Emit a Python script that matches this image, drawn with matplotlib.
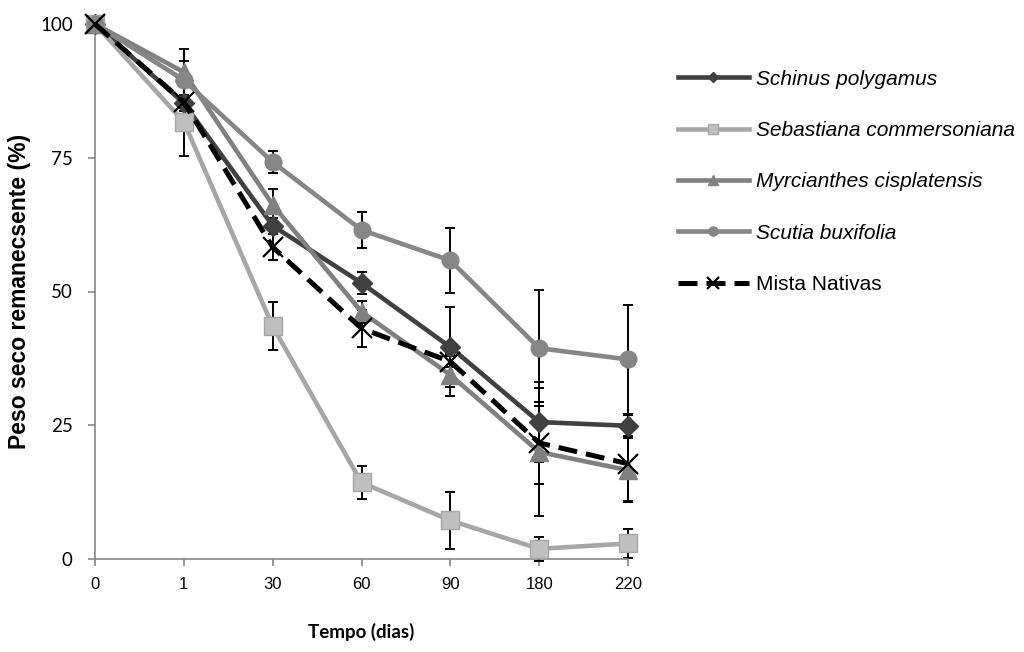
import matplotlib
matplotlib.use("Agg")
import matplotlib.pyplot as plt
import numpy as np

categories = ["0", "1", "30", "60", "90", "180", "220"]
schinus = [100, 85.2, 62.3, 51.6, 39.6, 25.6, 24.9]
schinus_err = [0, 1.5, 1.5, 2.0, 7.5, 7.5, 2.0]
sebastiana = [100, 81.7, 43.5, 14.3, 7.2, 1.9, 2.9]
sebastiana_err = [0, 1.0, 4.5, 3.0, 5.3, 2.2, 2.7]
myrcianthes = [100, 91.0, 66.2, 46.2, 34.4, 20.0, 16.6]
myrcianthes_err = [0, 2.0, 3.0, 2.0, 4.0, 12.0, 6.0]
scutia = [100, 89.5, 74.2, 61.5, 55.8, 39.4, 37.3]
scutia_err = [0, 1.0, 2.0, 3.3, 6.0, 10.8, 10.2]
mista = [100, 85.4, 58.3, 43.1, 36.9, 21.7, 17.8]
mista_err = [0, 10.0, 2.5, 3.5, 1.0, 7.7, 7.0]

fig = plt.figure(figsize=(10.24, 6.52), dpi=100)
ax = fig.add_axes([95/1024, 1-559/652, (628-95)/1024, (559-24)/652])

x = np.arange(len(categories))
series = [
    (schinus, schinus_err, "Schinus polygamus", "#404040", "#404040", "D", 10),
    (sebastiana, sebastiana_err, "Sebastiana commersoniana", "#A6A6A6", "#BFBFBF", "s", 13),
    (myrcianthes, myrcianthes_err, "Myrcianthes cisplatensis", "#808080", "#808080", "^", 12.5),
    (scutia, scutia_err, "Scutia buxifolia", "#868686", "#868686", "o", 12),
]
handles = []
for vals, err, lab, lc, mc, mk, ms in series:
    ax.errorbar(x, vals, yerr=err, fmt="none", ecolor="black", elinewidth=1.4,
                capsize=3.8, capthick=1.4, zorder=2, clip_on=False)
    h, = ax.plot(x, vals, color=lc, lw=3.3, marker=mk, ms=ms, mfc=mc, mec=lc,
                 label=lab, zorder=3, clip_on=False)
    handles.append(h)
ax.errorbar(x, mista, yerr=mista_err, fmt="none", ecolor="black", elinewidth=1.4,
            capsize=3.8, capthick=1.4, zorder=2, clip_on=False)
h, = ax.plot(x, mista, color="black", lw=3.6, ls=(0, (3.8, 1.8)), marker="x", ms=15,
             mew=1.6, label="Mista Nativas", zorder=4, clip_on=False)
handles.append(h)

ax.set_xlim(0, 6)
ax.set_ylim(0, 100)
ax.set_xticks(x)
ax.set_xticklabels(categories, fontsize=12, family="Liberation Sans")
ax.set_yticks([0, 25, 50, 75, 100])
ax.set_yticklabels(["0", "25", "50", "75", "100"], fontsize=13.5, family="Lato")
for s in ["top", "right"]:
    ax.spines[s].set_visible(False)
for s in ["left", "bottom"]:
    ax.spines[s].set_color("#868686")
    ax.spines[s].set_linewidth(1.2)
ax.tick_params(axis="both", direction="out", length=5, color="#868686", width=1.2)
ax.tick_params(axis="x", pad=8)
ax.tick_params(axis="y", pad=11)

ax.set_ylabel("Peso seco remanecsente (%)", fontsize=16.5, fontweight="bold",
              family="Liberation Sans")
ax.yaxis.set_label_coords((31-95)/533, 0.5)
ax.set_xlabel("Tempo (dias)", fontsize=13.5, fontweight="bold", family="Lato")
ax.xaxis.set_label_coords(0.5, (559-623)/535)

leg = fig.legend(handles=handles, loc="upper left", bbox_to_anchor=(659/1024, 1-51/652),
                 frameon=False, handlelength=3.4, labelspacing=1.55, handletextpad=0.35,
                 prop={"family": "Liberation Sans", "size": 15, "style": "italic"})
for t in leg.get_texts():
    if t.get_text() == "Mista Nativas":
        t.set_fontstyle("normal")
for lh in leg.legend_handles:
    lh.set_markersize(lh.get_markersize() * 0.55)

fig.savefig("out.png", dpi=100)
